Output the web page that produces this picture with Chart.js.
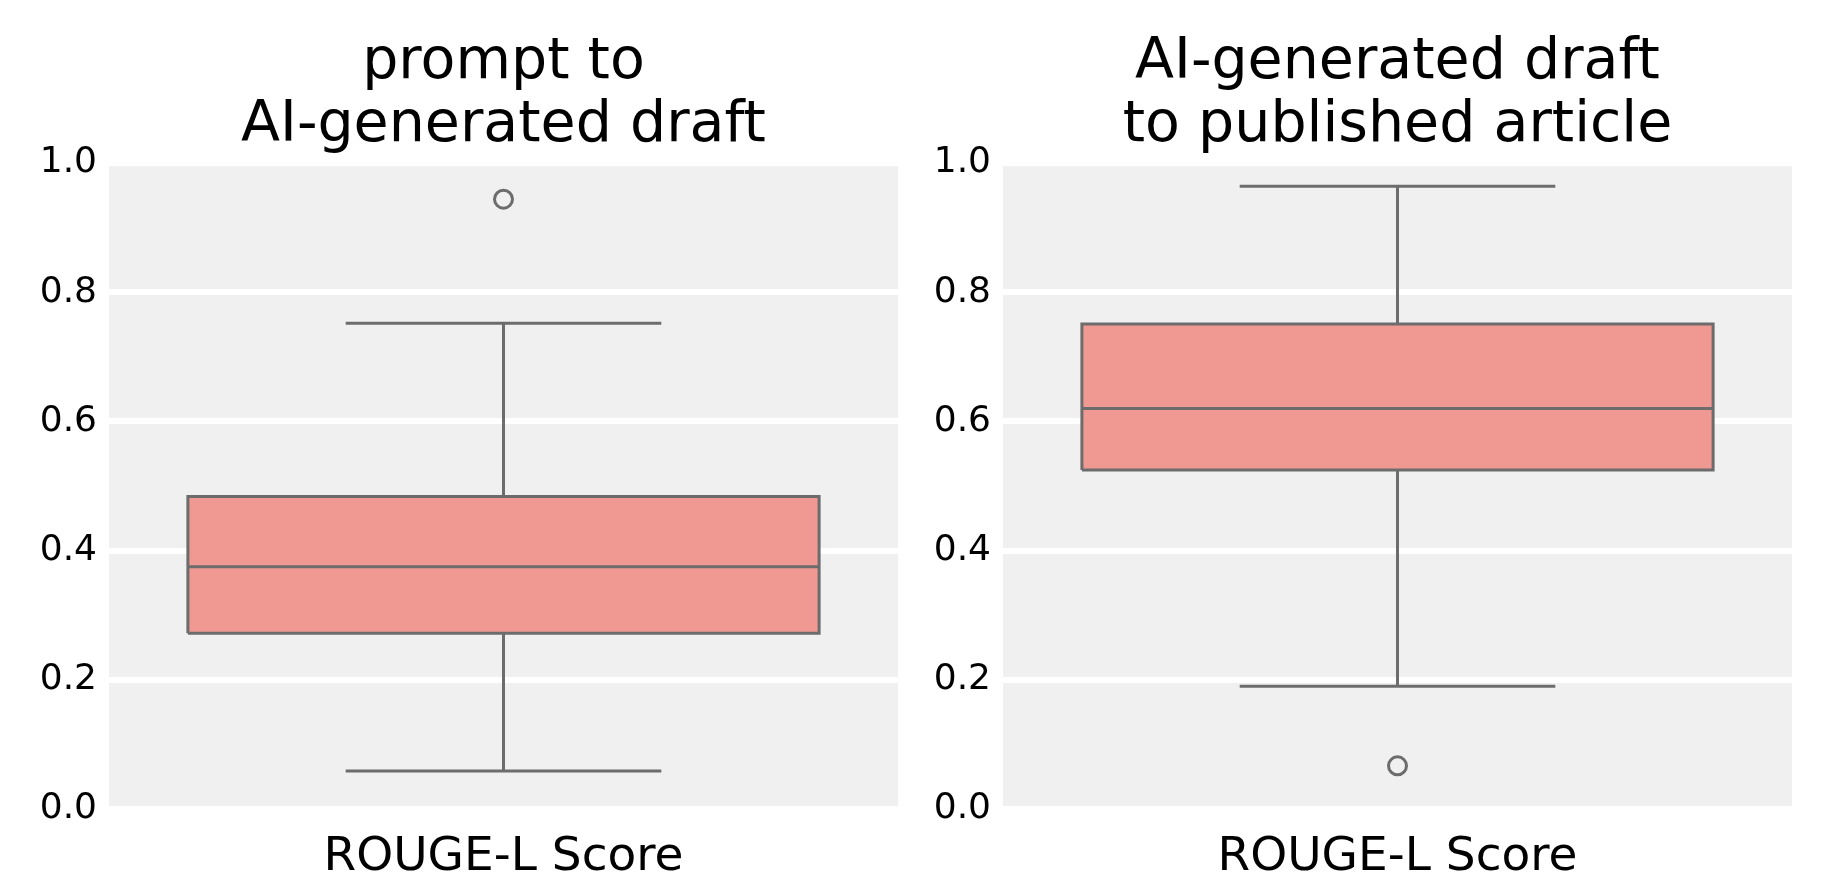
<!DOCTYPE html>
<html>
<head>
<meta charset="utf-8">
<script src="https://cdn.jsdelivr.net/npm/chart.js@4/dist/chart.umd.min.js"></script>
<style>
  html, body { margin: 0; padding: 0; background: #fff; overflow: hidden; }
  body { width: 1823px; height: 873px; position: relative; }
  canvas { position: absolute; top: 0; }
</style>
</head>
<body>
<canvas id="left" width="911" height="900" style="left:0"></canvas>
<canvas id="right" width="911" height="900" style="left:894px"></canvas>
<script>
// data
const panelTitles = [['prompt to', 'AI-generated draft'], ['AI-generated draft', 'to published article']];
const xLabel = 'ROUGE-L Score';
const whiskerLow = [0.059, 0.190];
const q1 = [0.272, 0.525];
const median = [0.375, 0.620];
const q3 = [0.484, 0.751];
const whiskerHigh = [0.752, 0.964];
const outliers = [[0.944], [0.067]];
const yTickValues = [0.0, 0.2, 0.4, 0.6, 0.8, 1.0];

const FONT = "'DejaVu Sans', sans-serif";
const BOX_FILL = '#F09892';
const LINE = '#6c6c6c';
const BG = '#f0f0f0';
const BOX_HALF = 0.4;   // box spans 80% of the panel
const CAP_HALF = 0.2;   // caps are half the box width

// grey plot background
const plotBg = {
  id: 'plotBg',
  beforeDraw(chart) {
    const { ctx, chartArea: a } = chart;
    ctx.save();
    ctx.fillStyle = BG;
    ctx.fillRect(a.left, a.top, a.right - a.left, a.bottom - a.top);
    ctx.restore();
  }
};

function path(points, extra) {
  return Object.assign({
    type: 'line',
    data: points.map(p => ({ x: p[0], y: p[1] })),
    borderColor: LINE,
    borderWidth: 3,
    pointRadius: 0,
    borderCapStyle: 'butt',
    borderJoinStyle: 'miter',
    fill: false,
    order: 2
  }, extra || {});
}

function makePanel(canvasId, i) {
  const lo = q1[i], hi = q3[i];
  const datasets = [
    // box fill: top edge filled down to bottom edge (next dataset)
    path([[-BOX_HALF, hi], [BOX_HALF, hi]], { borderWidth: 0, backgroundColor: BOX_FILL, fill: '+1', order: 4 }),
    path([[-BOX_HALF, lo], [BOX_HALF, lo]], { borderWidth: 0, order: 4 }),
    // box outline
    path([[-BOX_HALF, lo], [-BOX_HALF, hi], [BOX_HALF, hi], [BOX_HALF, lo], [-BOX_HALF, lo]]),
    // median
    path([[-BOX_HALF, median[i]], [BOX_HALF, median[i]]]),
    // whiskers and caps
    path([[0, hi], [0, whiskerHigh[i]]]),
    path([[0, lo], [0, whiskerLow[i]]]),
    path([[-CAP_HALF, whiskerHigh[i]], [CAP_HALF, whiskerHigh[i]]]),
    path([[-CAP_HALF, whiskerLow[i]], [CAP_HALF, whiskerLow[i]]]),
    {
      type: 'scatter',
      data: outliers[i].map(v => ({ x: 0, y: v })),
      pointRadius: 9,
      pointBorderWidth: 3,
      borderColor: LINE,
      backgroundColor: 'rgba(0,0,0,0)',
      order: 1
    }
  ];

  return new Chart(document.getElementById(canvasId), {
    type: 'line',
    data: { datasets },
    plugins: [plotBg],
    options: {
      responsive: false,
      animation: false,
      devicePixelRatio: 1,
      layout: { padding: { left: 0, right: 13, top: 0, bottom: 14 } },
      plugins: {
        legend: { display: false },
        tooltip: { enabled: false },
        title: {
          display: true,
          text: panelTitles[i],
          fullSize: false,
          color: '#000',
          font: { family: FONT, size: 57, weight: 'normal', lineHeight: '63px' },
          padding: { top: 32, bottom: 5 }
        }
      },
      scales: {
        x: {
          type: 'linear',
          min: -0.5,
          max: 0.5,
          offset: false,
          grid: { display: false, drawTicks: false },
          border: { display: false },
          ticks: { display: false },
          title: {
            display: true,
            text: xLabel,
            color: '#000',
            font: { family: FONT, size: 47, lineHeight: 1.2 },
            padding: { top: 20.5, bottom: 0 }
          }
        },
        y: {
          min: 0,
          max: 1,
          afterFit(scale) { scale.width = 109; },
          afterBuildTicks(scale) { scale.ticks = yTickValues.map(v => ({ value: v })); },
          grid: { color: '#ffffff', lineWidth: 6, drawTicks: false },
          border: { display: false },
          ticks: {
            padding: 12,
            color: '#000',
            font: { family: FONT, size: 36 },
            callback: v => Number(v).toFixed(1)
          }
        }
      }
    }
  });
}

makePanel('left', 0);
makePanel('right', 1);
</script>
</body>
</html>
